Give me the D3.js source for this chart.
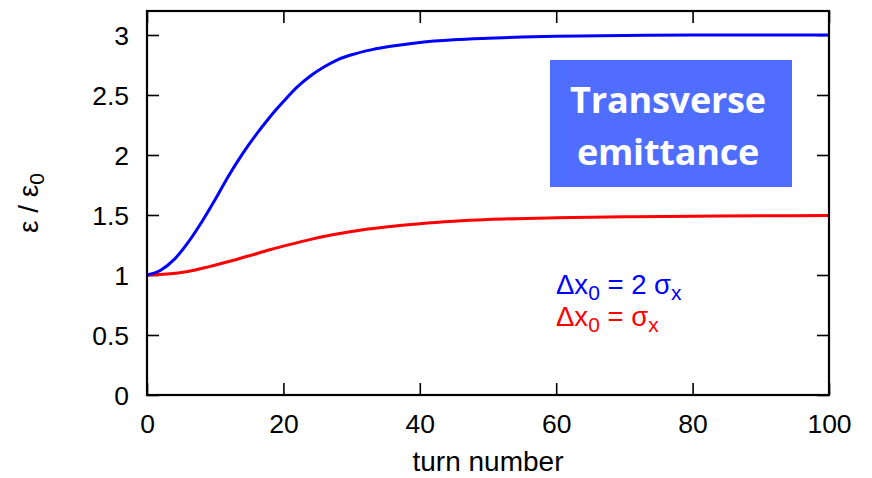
<!DOCTYPE html>
<html><head><meta charset="utf-8">
<script src="https://cdn.jsdelivr.net/npm/d3@7"></script>
<style>body{margin:0;background:#fff}</style>
</head><body>
<svg id="c" width="872" height="478"></svg>
<script>
const xTicks = [0, 20, 40, 60, 80, 100];
const yTicks = [0, 0.5, 1, 1.5, 2, 2.5, 3];
const blueTurns = [0,2,4,6,8,10,12,14,16,18,20,22,24,26,28,30,33,36,40,45,50,55,60,70,80,90,100];
const blueValues = [1.0,1.04,1.13,1.27,1.44,1.63,1.83,2.01,2.17,2.315,2.445,2.565,2.66,2.735,2.795,2.835,2.878,2.908,2.938,2.96,2.973,2.983,2.99,2.996,2.999,3.0,3.0];
const redTurns = [0,3,6,9,12,15,18,21,24,27,30,35,40,45,50,60,70,80,90,100];
const redValues = [1.0,1.008,1.03,1.068,1.112,1.16,1.21,1.255,1.297,1.333,1.363,1.40,1.428,1.448,1.462,1.477,1.485,1.49,1.493,1.495];
const boxLines = ["Transverse", "emittance"];

const svg = d3.select("#c");
const L = 147, R = 829, T = 11, B = 395;
const x = d3.scaleLinear().domain([0, 100]).range([L, R]);
const y = d3.scaleLinear().domain([0, 3.2]).range([B, T]);
const font = "'Liberation Sans', Arial, sans-serif";

// ticks
const tl = 12;
const gx = svg.append("g").attr("transform", `translate(0,${B})`)
  .call(d3.axisBottom(x).tickValues(xTicks).tickSize(-tl).tickFormat(d3.format("d")));
const gxt = svg.append("g").attr("transform", `translate(0,${T})`)
  .call(d3.axisTop(x).tickValues(xTicks).tickSize(-tl).tickFormat(""));
const gy = svg.append("g").attr("transform", `translate(${L},0)`)
  .call(d3.axisLeft(y).tickValues(yTicks).tickSize(-tl).tickFormat(d => d));
const gyr = svg.append("g").attr("transform", `translate(${R},0)`)
  .call(d3.axisRight(y).tickValues(yTicks).tickSize(-tl).tickFormat(""));
[gx, gxt, gy, gyr].forEach(g => {
  g.select(".domain").remove();
  g.selectAll(".tick line").attr("stroke", "#000").attr("stroke-width", 1.6);
  g.selectAll(".tick text").attr("font-family", font).attr("font-size", 26.5).attr("fill", "#000");
});
gx.selectAll(".tick text").attr("dy", null).attr("y", 38);
gy.selectAll(".tick text").attr("x", -18).attr("dy", "0.35em");

// box
const bx = 550, by = 60, bw = 242, bh = 127;
svg.append("rect").attr("x", bx).attr("y", by).attr("width", bw).attr("height", bh).attr("fill", "#4f6eff");
svg.append("g").selectAll("text").data(boxLines).join("text")
  .attr("x", 668).attr("y", (d, i) => 113 + i * 52)
  .attr("text-anchor", "middle").attr("fill", "#fff")
  .attr("font-family", "'Open Sans', sans-serif").attr("font-weight", "bold").attr("font-size", 36)
  .attr("letter-spacing", -0.2)
  .text(d => d);

// curves
const line = d3.line().curve(d3.curveMonotoneX).x(d => x(d[0])).y(d => y(d[1]));
svg.append("path").datum(redTurns.map((t, i) => [t, redValues[i]]))
  .attr("d", line).attr("fill", "none").attr("stroke", "#ff0000").attr("stroke-width", 3);
svg.append("path").datum(blueTurns.map((t, i) => [t, blueValues[i]]))
  .attr("d", line).attr("fill", "none").attr("stroke", "#0000ff").attr("stroke-width", 3);

// frame
svg.append("rect").attr("x", L).attr("y", T).attr("width", R - L).attr("height", B - T)
  .attr("fill", "none").attr("stroke", "#000").attr("stroke-width", 2.2);

// legend
function legend(yPos, color, two) {
  const t = svg.append("text").attr("x", 556).attr("y", yPos).attr("fill", color)
    .attr("font-family", font).attr("font-size", 27.5);
  t.append("tspan").text("Δx");
  t.append("tspan").attr("baseline-shift", "-30%").attr("font-size", 21).text("0");
  t.append("tspan").text(two ? " = 2 σ" : " = σ");
  t.append("tspan").attr("baseline-shift", "-30%").attr("font-size", 21).text("x");
}
legend(294, "#0000ff", true);
legend(326, "#ff0000", false);

// axis titles
svg.append("text").attr("x", 488).attr("y", 471).attr("text-anchor", "middle")
  .attr("font-family", font).attr("font-size", 28).text("turn number");
const yl = svg.append("text").attr("transform", "translate(38,203) rotate(-90)").attr("text-anchor", "middle")
  .attr("font-family", font).attr("font-size", 28);
yl.append("tspan").text("ε / ε");
yl.append("tspan").attr("baseline-shift", "-30%").attr("font-size", 21).text("0");
</script>
</body></html>
